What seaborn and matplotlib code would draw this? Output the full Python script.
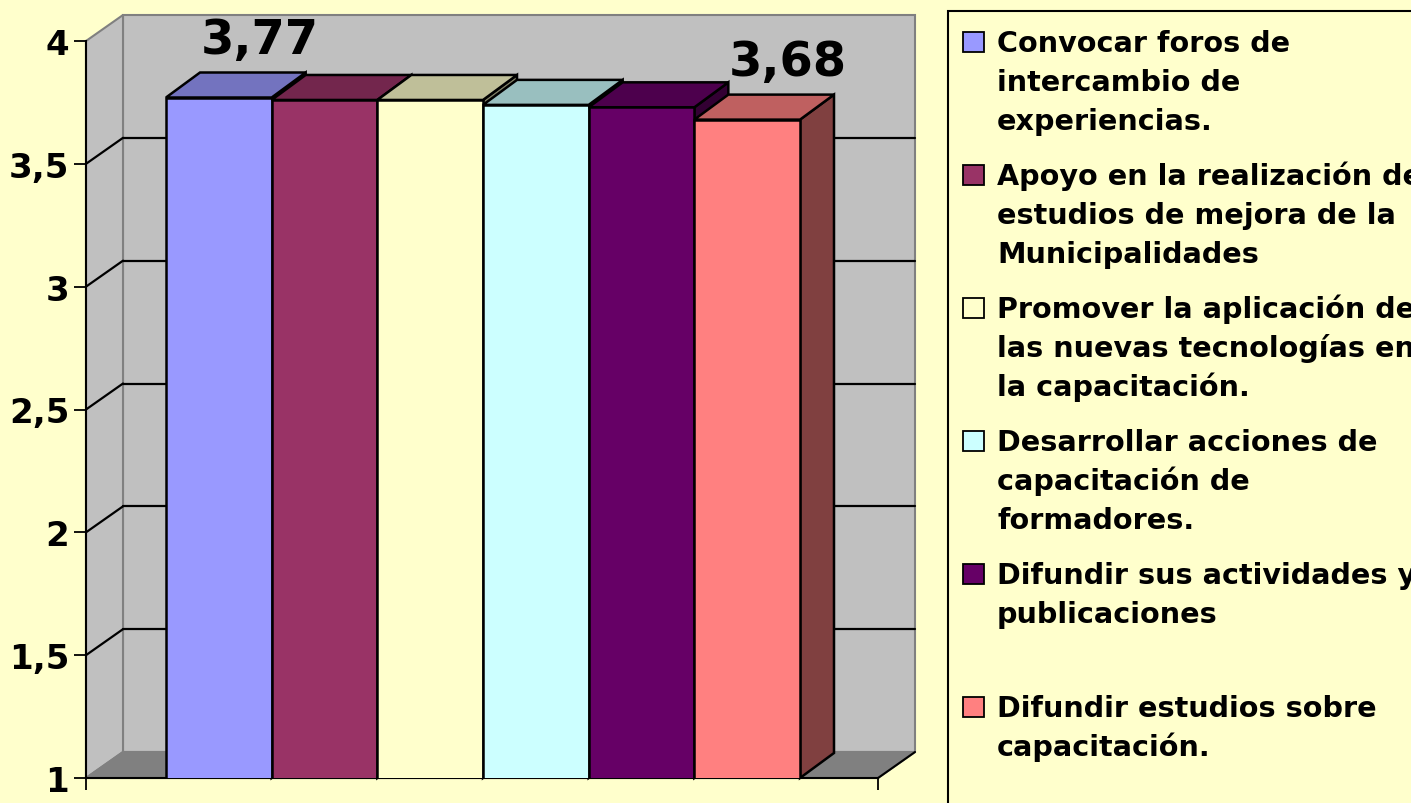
"""
Gráfico de barras 3D (estilo Excel): valoración media de líneas de acción.
"""
import matplotlib
matplotlib.use("Agg")
import matplotlib.pyplot as plt
import seaborn as sns
from matplotlib.colors import to_rgb
from matplotlib.patches import Polygon, Rectangle

# ─────────────────────────────────────────────
# Datos
# ─────────────────────────────────────────────
categorias = [
    "Convocar foros de\nintercambio de\nexperiencias.",
    "Apoyo en la realización de\nestudios de mejora de la\nMunicipalidades",
    "Promover la aplicación de\nlas nuevas tecnologías en\nla capacitación.",
    "Desarrollar acciones de\ncapacitación de\nformadores.",
    "Difundir sus actividades y\npublicaciones",
    "Difundir estudios sobre\ncapacitación.",
]
valores = [3.77, 3.76, 3.76, 3.74, 3.73, 3.68]
ticks_y = [1, 1.5, 2, 2.5, 3, 3.5, 4]
etiquetas_y = ["1", "1,5", "2", "2,5", "3", "3,5", "4"]
barras_con_etiqueta = [0, 5]

PALETA = ["#9999FF", "#993366", "#FFFFCC", "#CCFFFF", "#660066", "#FF8080"]
FONDO = "#FFFFCC"
PARED = "#C0C0C0"
SUELO = "#808080"

sns.set_theme(style="white")
plt.rcParams.update({
    "font.family": ["DejaVu Sans"],
    "font.weight": "bold",
    "text.color": "black",
    "axes.labelcolor": "black",
})


def oscurecer(color, f):
    r, g, b = to_rgb(color)
    return (r * f, g * f, b * f)


W, H = 1411, 804
fig = plt.figure(figsize=(W / 100, H / 100), dpi=100, facecolor=FONDO)
ax = fig.add_axes([86 / W, 25 / H, 792 / W, 737 / H])
ax.patch.set_visible(False)

sns.barplot(x=categorias, y=valores, hue=categorias, palette=PALETA,
            width=1, saturation=1, dodge=False, errorbar=None, legend=False,
            edgecolor="black", linewidth=1.8, ax=ax)
barras = sorted(ax.patches, key=lambda p: p.get_x())

# escala del plano frontal (px por unidad)
bar_px = 634 / 6
x0 = -0.5 - 80 / bar_px
x1 = 5.5 + 78 / bar_px
ax.set_xlim(x0, x1)
ax.set_ylim(1, 4)
ppy = 737 / 3
wdx, wdy = 37 / bar_px, 26 / ppy   # profundidad de paredes
bdx, bdy = 34 / bar_px, 25 / ppy   # profundidad de barras

# ─────────────────────────────────────────────
# Paredes y suelo
# ─────────────────────────────────────────────
ymin, ymax = ticks_y[0], ticks_y[-1]
fondo = Polygon([(x0 + wdx, ymin + wdy), (x1 + wdx, ymin + wdy),
                 (x1 + wdx, ymax + wdy), (x0 + wdx, ymax + wdy)],
                fc=PARED, ec=SUELO, lw=1.5, clip_on=False, zorder=0.3)
lateral = Polygon([(x0, ymin), (x0, ymax), (x0 + wdx, ymax + wdy), (x0 + wdx, ymin + wdy)],
                  fc=PARED, ec=SUELO, lw=1.5, clip_on=False, zorder=0.3)
suelo = Polygon([(x0, ymin), (x1, ymin), (x1 + wdx, ymin + wdy), (x0 + wdx, ymin + wdy)],
                fc=SUELO, ec=SUELO, lw=1.5, clip_on=False, zorder=0.4)
for p in (fondo, lateral, suelo):
    ax.add_patch(p)
ax.plot([x1, x1 + wdx], [ymin, ymin + wdy], color="black", lw=1.5, clip_on=False, zorder=0.5)

for t in ticks_y[1:-1]:
    ax.plot([x0 + wdx, x1 + wdx], [t + wdy, t + wdy], color="black", lw=1.6,
            clip_on=False, zorder=0.6)
    ax.plot([x0, x0 + wdx], [t, t + wdy], color="black", lw=1.6,
            clip_on=False, zorder=0.6)

# ─────────────────────────────────────────────
# Barras 3D (lado, tapa, frente)
# ─────────────────────────────────────────────
for i, (p, v, c) in enumerate(zip(barras, valores, PALETA)):
    xa = p.get_x()
    xb = xa + p.get_width()
    z = 3 + 3 * i
    lado = Polygon([(xb, ymin), (xb, v), (xb + bdx, v + bdy), (xb + bdx, ymin + bdy)],
                   fc=oscurecer(c, 0.5), ec="black", lw=1.8, clip_on=False, zorder=z)
    tapa = Polygon([(xa, v), (xb, v), (xb + bdx, v + bdy), (xa + bdx, v + bdy)],
                   fc=oscurecer(c, 0.75), ec="black", lw=1.8, clip_on=False, zorder=z + 1)
    ax.add_patch(lado)
    ax.add_patch(tapa)
    p.set_zorder(z + 2)

for i in barras_con_etiqueta:
    p = barras[i]
    ax.annotate(f"{valores[i]:.2f}".replace(".", ","),
                xy=(p.get_x() + p.get_width() / 2, valores[i]),
                xytext=(41 * 0.72, 45 * 0.72), textcoords="offset points",
                ha="center", va="baseline", fontsize=34.5, fontweight="bold",
                color="black", zorder=40, annotation_clip=False)

# ─────────────────────────────────────────────
# Ejes
# ─────────────────────────────────────────────
ax.set_yticks(ticks_y, etiquetas_y)
ax.set_xticks([x0, x1], ["", ""])
ax.tick_params(axis="y", direction="out", length=8.6, width=1.3, pad=3.5,
               labelsize=24.5, colors="black", left=True)
ax.tick_params(axis="x", direction="out", length=8.6, width=1.3, colors="black", bottom=True)
for lado_eje in ("top", "right"):
    ax.spines[lado_eje].set_visible(False)
for lado_eje in ("left", "bottom"):
    ax.spines[lado_eje].set_color("black")
    ax.spines[lado_eje].set_linewidth(1.5)
ax.set_xlabel("")
ax.set_ylabel("")

# ─────────────────────────────────────────────
# Leyenda
# ─────────────────────────────────────────────
fig.add_artist(Rectangle((948 / W, -0.02), 1, 1.02 - 12 / H, transform=fig.transFigure,
                         fc=FONDO, ec="black", lw=1.5, zorder=0))
for k, etiqueta in enumerate(categorias):
    base = 52 + 133 * k
    fig.add_artist(Rectangle((963 / W, 1 - (base + 1) / H), 21 / W, 20 / H,
                             transform=fig.transFigure, fc=PALETA[k], ec="black",
                             lw=1.3, zorder=2))
    for j, linea in enumerate(etiqueta.split("\n")):
        fig.text(997 / W, 1 - (base + 39 * j) / H, linea, fontsize=20.6,
                 fontweight="bold", color="black", ha="left", va="baseline", zorder=3)

fig.savefig("out.png", dpi=100, facecolor=FONDO)
plt.close(fig)
